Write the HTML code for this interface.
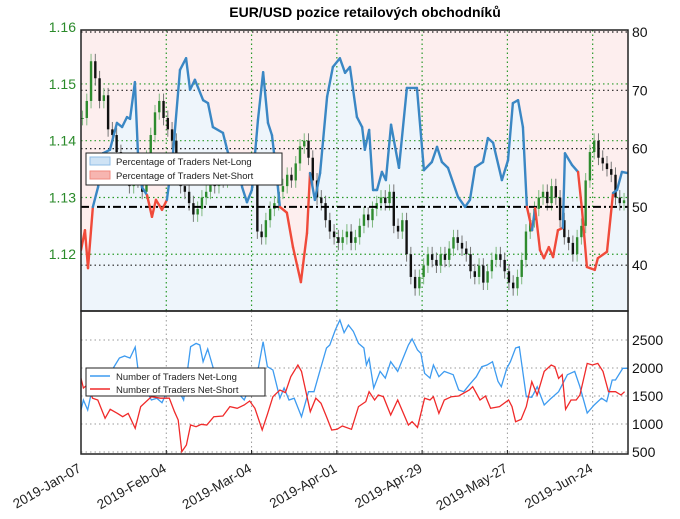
<!DOCTYPE html>
<html><head><meta charset="utf-8">
<style>
html,body{margin:0;padding:0;background:#fff;}
svg{display:block;font-family:"Liberation Sans","DejaVu Sans",sans-serif;}
</style></head>
<body>
<svg id="chart" width="680" height="519" viewBox="0 0 680 519" xmlns="http://www.w3.org/2000/svg">
<text x="365" y="17" text-anchor="middle" font-size="14" font-weight="bold" fill="#000">EUR/USD pozice retailových obchodníků</text>
<g id="topPanel"></g>
<g id="botPanel"></g>
</svg>
<script>
// ---- data ----
const dateTicks = ["2019-Jan-07","2019-Feb-04","2019-Mar-04","2019-Apr-01","2019-Apr-29","2019-May-27","2019-Jun-24"];
const dateTickDays = [0,28,56,84,112,140,168];
const priceTicks = [1.12,1.13,1.14,1.15,1.16];
const pctTicks = [40,50,60,70,80];
const countTicks = [500,1000,1500,2000,2500];
const closes = [1.1440,1.1470,1.1540,1.1510,1.1470,1.1480,1.1420,1.1410,1.1380,1.1360,1.1340,1.1320,1.1350,1.1330,1.1310,1.1370,1.1410,1.1450,1.1470,1.1440,1.1420,1.1400,1.1360,1.1320,1.1310,1.1290,1.1270,1.1280,1.1300,1.1310,1.1330,1.1320,1.1340,1.1330,1.1350,1.1340,1.1360,1.1350,1.1340,1.1360,1.1330,1.1240,1.1230,1.1260,1.1280,1.1290,1.1310,1.1320,1.1340,1.1330,1.1360,1.1390,1.1400,1.1370,1.1330,1.1300,1.1290,1.1260,1.1240,1.1230,1.1220,1.1230,1.1240,1.1220,1.1230,1.1250,1.1270,1.1260,1.1280,1.1290,1.1300,1.1290,1.1310,1.1250,1.1240,1.1260,1.1200,1.1160,1.1140,1.1160,1.1180,1.1200,1.1190,1.1180,1.1200,1.1190,1.1210,1.1230,1.1220,1.1210,1.1200,1.1170,1.1160,1.1180,1.1150,1.1170,1.1190,1.1200,1.1190,1.1170,1.1150,1.1140,1.1160,1.1190,1.1240,1.1260,1.1280,1.1300,1.1310,1.1290,1.1320,1.1300,1.1260,1.1230,1.1220,1.1200,1.1230,1.1250,1.1330,1.1380,1.1400,1.1370,1.1360,1.1350,1.1340,1.1300,1.1290,1.1295];
const pctDays = [0,1.3,2.3,3.9,5.6,7.2,9.5,11.8,13.5,15.1,16.1,17.7,18.7,20.0,21.7,23.3,24.6,26.6,28.2,30.2,32.5,34.5,35.8,37.4,40.1,41.7,43.3,46.6,48.3,51.2,52.9,54.5,56.1,58.1,59.8,61.4,62.7,64.3,65.3,67.6,69.6,72.2,74.2,75.2,76.8,78.5,80.8,82.7,85.0,86.7,88.3,90.6,92.3,93.2,94.6,95.9,97.2,98.8,100.1,101.8,104.4,107.0,110.3,112.6,115.2,116.9,118.5,120.5,123.8,126.1,127.7,129.4,132.0,133.6,135.3,138.2,140.2,141.8,143.5,145.1,146.4,148.1,149.1,150.7,152.0,153.6,155.0,156.6,158.2,158.9,161.2,163.2,164.5,166.1,168.7,169.7,172.7,174.7,176.0,177.6,179.5];
const pctLong = [42.6,46.0,39.5,50.0,53.4,59.2,59.8,64.4,63.7,65.4,65.1,71.4,59.2,53.4,52.0,48.3,51.2,49.5,51.2,59.2,73.5,75.5,70.1,71.8,68.3,67.8,63.7,62.7,59.2,58.6,53.4,50.8,52.9,64.9,73.1,64.4,62.3,55.1,50.0,49.0,43.1,37.1,45.5,55.8,51.2,55.8,68.9,74.0,75.5,73.0,74.0,65.4,63.7,59.8,63.2,52.9,52.9,56.0,54.6,64.1,56.7,70.4,70.4,56.3,57.7,60.3,57.7,56.7,51.7,50.0,51.2,56.8,57.7,61.8,61.0,54.6,58.0,67.8,68.3,63.7,50.0,46.0,49.8,42.6,41.2,43.1,41.4,46.0,46.4,59.2,57.2,56.0,49.5,39.7,39.2,41.2,42.3,52.4,52.9,56.0,55.8];
// side of segment leaving each point: 1 = net-long (blue), 0 = net-short (red)
const pctSide = [0,0,0,1,1,1,1,1,1,1,1,1,1,1,0,0,0,0,1,1,1,1,1,1,1,1,1,1,1,1,1,1,1,1,1,1,1,1,0,0,0,0,0,1,1,1,1,1,1,1,1,1,1,1,1,1,1,1,1,1,1,1,1,1,1,1,1,1,1,1,1,1,1,1,1,1,1,1,1,1,0,1,0,0,0,0,0,0,1,1,1,0,0,0,0,0,0,1,1,1,1];
const longDays = [0,0.8,2.2,3.8,6.7,10.2,12.6,14.3,16.1,17.8,19.0,23.1,24.9,26.6,29.0,32.5,33.7,36.0,37.8,39.0,40.1,41.6,43.6,46.6,53.6,58.3,59.8,61.2,63.0,65.3,66.7,68.3,70.0,72.4,74.7,76.5,78.2,80.6,81.7,83.5,85.0,86.4,87.8,89.4,91.1,92.9,93.7,94.6,96.1,98.2,99.9,101.7,104.0,107.5,108.7,110.5,111.6,112.8,114.6,115.7,117.5,119.3,122.2,124.0,125.7,127.5,129.8,131.6,133.3,135.1,136.9,138.0,139.8,141.0,142.7,143.9,146.2,148.0,149.8,152.1,154.4,156.8,159.7,162.1,163.8,166.2,168.5,170.9,172.6,174.4,175.5,177.9,179.5];
const longCounts = [1250,1429,1250,1666,1845,1964,2179,2214,2179,2375,1845,1429,1460,1380,1666,1550,1429,2381,2440,2410,2113,2339,1964,1845,1429,2024,2470,2024,1964,1460,1643,1429,1460,1131,1577,1577,1905,2357,2410,2679,2857,2631,2768,2655,2440,2357,2054,2170,1643,1940,1820,2113,1940,2410,2520,2321,2260,1905,1820,2054,1845,1940,1880,1607,1577,1700,1845,2024,2054,2113,1760,1666,1994,2113,2357,2381,1488,1476,1666,1339,1460,1577,1880,1940,1666,1196,1339,1460,1400,1786,1786,1994,1994];
const shortDays = [0,0.8,2.0,3.8,5.5,7.9,9.6,12.0,13.7,15.5,17.8,19.6,23.1,26.1,29.0,30.7,31.9,33.1,34.6,36.0,37.8,39.5,41.3,43.6,46.6,48.9,51.3,53.6,55.4,57.1,59.5,61.2,63.0,65.3,67.1,68.9,71.2,72.4,75.3,77.1,78.8,80.6,82.3,84.1,85.8,88.8,91.1,93.5,94.6,96.4,97.6,99.3,101.7,104.0,107.5,108.7,110.5,112.8,114.6,115.7,117.5,119.3,121.6,124.0,127.5,128.6,131.0,132.8,134.5,137.4,140.4,141.5,142.7,144.5,146.2,148.0,149.8,152.1,154.4,155.6,156.8,158.0,159.1,160.9,162.6,163.8,166.2,167.9,169.7,171.4,173.2,175.5,177.3,178.5];
const shortCounts = [1816,1643,1696,1460,1429,1101,1262,1190,1130,1190,923,1310,1488,1460,1460,1220,1071,505,625,982,952,994,982,1131,1143,1310,1280,1339,1411,1280,893,1173,1488,1607,1560,1845,2054,1940,1220,1460,1370,1131,893,905,964,905,1310,1400,1577,1429,1518,1488,1160,1429,982,1041,940,1460,1429,1488,1190,1429,1488,1500,1607,1666,1429,1500,1280,1310,1429,1310,1041,1083,1310,1756,1518,1940,2054,2024,1815,1880,1262,1429,1429,1518,2083,2054,2083,1940,1577,1577,1518,1577];

// ---- layout ----
const NS="http://www.w3.org/2000/svg";
const L=81,R=628,T1=30,B1=311,T2=311,B2=454;
const DMAX=179.6;
const xS=d=>L+d/DMAX*(R-L);
const yP=p=>T1+(1.1595-p)/(1.1595-1.11)*(B1-T1);
const yPct=v=>32+(80-v)*5.83;
const yC=c=>340+(2500-c)/500*28;
function mk(tag,attrs,parent){const e=document.createElementNS(NS,tag);for(const k in attrs)e.setAttribute(k,attrs[k]);parent.appendChild(e);return e;}
const topG=document.getElementById('topPanel'), botG=document.getElementById('botPanel');

const defs=mk('defs',{},document.getElementById('chart'));
const cp=mk('clipPath',{id:'c1'},defs); mk('rect',{x:L,y:T1,width:R-L,height:B1-T1},cp);
const cp2=mk('clipPath',{id:'c2'},defs); mk('rect',{x:L,y:T2,width:R-L,height:B2-T2},cp2);

const pts=pctDays.map((d,i)=>[xS(d),yPct(pctLong[i])]);
const lineStr=pts.map(p=>p[0].toFixed(1)+','+p[1].toFixed(1)).join(' ');
const gTop=mk('g',{'clip-path':'url(#c1)'},topG);
const pink=mk('polygon',{points:xS(0)+','+T1+' '+lineStr+' '+xS(DMAX)+','+T1,fill:'#fdeeee'},gTop);


const blue=mk('polygon',{points:xS(0)+','+B1+' '+lineStr+' '+xS(DMAX)+','+B1,fill:'#eef5fb'},gTop);



dateTickDays.forEach(d=>{if(d>0)mk('line',{x1:xS(d),x2:xS(d),y1:T1,y2:B1,stroke:'#2a9a2a','stroke-width':1.2,'stroke-dasharray':'1.5,3'},gTop);});
priceTicks.forEach(p=>mk('line',{x1:L,x2:R,y1:yP(p),y2:yP(p),stroke:'#2a9a2a','stroke-width':1.2,'stroke-dasharray':'1.5,3'},gTop));
pctTicks.forEach(v=>{if(v!==50)mk('line',{x1:L,x2:R,y1:yPct(v),y2:yPct(v),stroke:'#222','stroke-width':1.2,'stroke-dasharray':'1.5,3'},gTop);});

closes.forEach((c,i)=>{
  const o=i?closes[i-1]:c; const d=i*1.4+0.5; const x=xS(d);
  const up=c>=o; const col=up?'#2e8b2e':'#111';
  const hi=Math.max(o,c)+0.0013, lo=Math.min(o,c)-0.0013;
  const w=mk('line',{x1:x,x2:x,y1:yP(hi),y2:yP(lo),stroke:up?'#7fb87f':'#777','stroke-width':1},gTop);
  
  
  const y1=yP(Math.max(o,c)), h=Math.max(1,yP(Math.min(o,c))-y1);
  const b=mk('rect',{x:x-1.2,y:y1,width:2.4,height:h,fill:col},gTop);
  
  
});

mk('line',{x1:L,x2:R,y1:yPct(50),y2:yPct(50),stroke:'#000','stroke-width':2,'stroke-dasharray':'8,3,2,3'},gTop);

for(let i=0;i<pts.length-1;i++){
  const s=mk('line',{x1:pts[i][0],y1:pts[i][1],x2:pts[i+1][0],y2:pts[i+1][1],stroke:pctSide[i]?'#3a87c4':'#f04a3a','stroke-width':2.4,'stroke-linecap':'round'},gTop);
  
  
}
mk('rect',{x:L,y:T1,width:R-L,height:B1-T1,fill:'none',stroke:'#222','stroke-width':1.5},topG);

priceTicks.forEach(p=>{const t=mk('text',{x:L-5,y:yP(p)+5,'text-anchor':'end','font-size':14,fill:'#2a8a2a'},topG);t.textContent=p.toFixed(2);

});
pctTicks.forEach(v=>{const t=mk('text',{x:R+4,y:yPct(v)+5,'font-size':14,fill:'#111'},topG);t.textContent=v;

});

const lg=mk('g',{},topG);


mk('rect',{x:86,y:153,width:196,height:32,fill:'#fff',stroke:'#222','stroke-width':1},lg);
mk('rect',{x:90,y:157,width:20,height:8,fill:'#cfe3f5',stroke:'#8fbde6'},lg);
mk('rect',{x:90,y:171,width:20,height:8,fill:'#f7b5b0',stroke:'#f08a80'},lg);
let t=mk('text',{x:116,y:165,'font-size':9.5,fill:'#222'},lg);t.textContent='Percentage of Traders Net-Long';
t=mk('text',{x:116,y:179,'font-size':9.5,fill:'#222'},lg);t.textContent='Percentage of Traders Net-Short';

const gB=mk('g',{'clip-path':'url(#c2)'},botG);
dateTickDays.forEach(d=>{if(d>0)mk('line',{x1:xS(d),x2:xS(d),y1:T2,y2:B2,stroke:'#999','stroke-width':1,'stroke-dasharray':'1.5,3'},gB);});
countTicks.forEach(c=>mk('line',{x1:L,x2:R,y1:yC(c),y2:yC(c),stroke:'#999','stroke-width':1,'stroke-dasharray':'1.5,3'},gB));
const lp=mk('polyline',{points:longDays.map((d,i)=>xS(d).toFixed(1)+','+yC(longCounts[i]).toFixed(1)).join(' '),fill:'none',stroke:'#3d9bf0','stroke-width':1.3},gB);


const sp=mk('polyline',{points:shortDays.map((d,i)=>xS(d).toFixed(1)+','+yC(shortCounts[i]).toFixed(1)).join(' '),fill:'none',stroke:'#f02a2a','stroke-width':1.3},gB);


mk('rect',{x:L,y:T2,width:R-L,height:B2-T2,fill:'none',stroke:'#222','stroke-width':1.5},botG);
countTicks.forEach(c=>{const tt=mk('text',{x:R+4,y:yC(c)+5,'font-size':14,fill:'#111'},botG);tt.textContent=c;

});
dateTickDays.forEach((d,i)=>{
  mk('line',{x1:xS(d),x2:xS(d),y1:B2,y2:B2-4,stroke:'#222'},botG);
  const x=xS(d)+1, y=B2+17;
  const tt=mk('text',{x:x,y:y,'text-anchor':'end','font-size':13.5,fill:'#222',transform:'rotate(-30 '+x+' '+y+')'},botG);
  tt.textContent=dateTicks[i];
  
  
});
const lg2=mk('g',{},botG);


mk('rect',{x:86,y:368,width:179,height:28,fill:'#fff',stroke:'#222','stroke-width':1},lg2);
mk('line',{x1:90,x2:110,y1:376,y2:376,stroke:'#3d9bf0','stroke-width':1.5},lg2);
mk('line',{x1:90,x2:110,y1:389,y2:389,stroke:'#f02a2a','stroke-width':1.5},lg2);
t=mk('text',{x:116,y:380,'font-size':9.5,fill:'#222'},lg2);t.textContent='Number of Traders Net-Long';
t=mk('text',{x:116,y:393,'font-size':9.5,fill:'#222'},lg2);t.textContent='Number of Traders Net-Short';
</script>
</body></html>
